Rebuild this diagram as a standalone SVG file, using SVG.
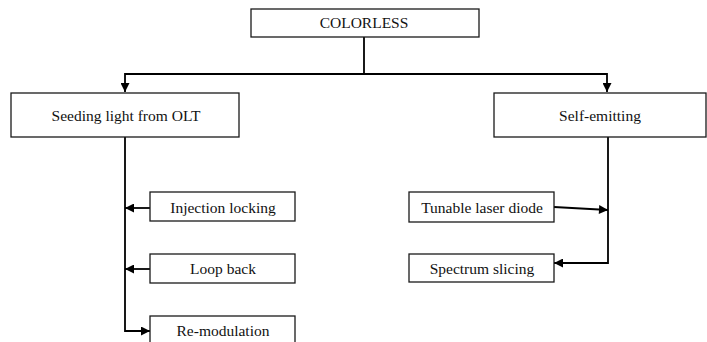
<svg xmlns="http://www.w3.org/2000/svg" width="707" height="342" viewBox="0 0 707 342">
<style>
.box{fill:#fff;stroke:#1a1a1a;stroke-width:1.3}
.sh{fill:none;stroke:#888;stroke-width:1}
text{font-family:'Liberation Serif','Times New Roman',serif;font-size:15.5px;fill:#111;text-anchor:middle}
.c{fill:none;stroke:#000;stroke-width:1.8}
</style>
<defs>
<marker id="ah" viewBox="0 0 10 10" refX="10" refY="5" markerWidth="10" markerHeight="9" markerUnits="userSpaceOnUse" orient="auto">
<path d="M0,0 L10,5 L0,10 Z" fill="#000"/>
</marker>
</defs>
<g id="connectors">
<path class="c" d="M364,37 V74"/>
<path class="c" d="M364,74 H125 V92" marker-end="url(#ah)"/>
<path class="c" d="M364,74 H607 V92" marker-end="url(#ah)"/>
<path class="c" d="M125,137 V331 H150" marker-end="url(#ah)"/>
<path class="c" d="M150,208 H125" marker-end="url(#ah)"/>
<path class="c" d="M150,269 H125" marker-end="url(#ah)"/>
<path class="c" d="M554,207 L608,210" marker-end="url(#ah)"/>
<path class="c" d="M608,137 V263 H554" marker-end="url(#ah)"/>
</g>
<g id="colorless">
<rect class="box" x="251" y="9" width="228" height="28"/>
<text x="364" y="28">COLORLESS</text>
</g>
<g id="seeding">
<rect class="box" x="11" y="93" width="228" height="44"/>
<text x="126" y="121">Seeding light from OLT</text>
</g>
<g id="self-emitting">
<rect class="box" x="494" y="93" width="212" height="44"/>
<text x="600" y="121">Self-emitting</text>
</g>
<g id="injection">
<rect class="box" x="150" y="192" width="145" height="29"/>
<text x="223" y="213">Injection locking</text>
</g>
<g id="loopback">
<rect class="box" x="150" y="254" width="145" height="29"/>
<text x="223" y="274">Loop back</text>
</g>
<g id="remodulation">
<rect class="box" x="150" y="316" width="145" height="34"/>
<text x="223" y="336">Re-modulation</text>
</g>
<g id="tunable">
<rect class="box" x="409" y="192" width="145" height="30"/>
<text x="482" y="213">Tunable laser diode</text>
</g>
<g id="spectrum">
<rect class="box" x="409" y="254" width="145" height="28"/>
<text x="482" y="274">Spectrum slicing</text>
</g>
</svg>
